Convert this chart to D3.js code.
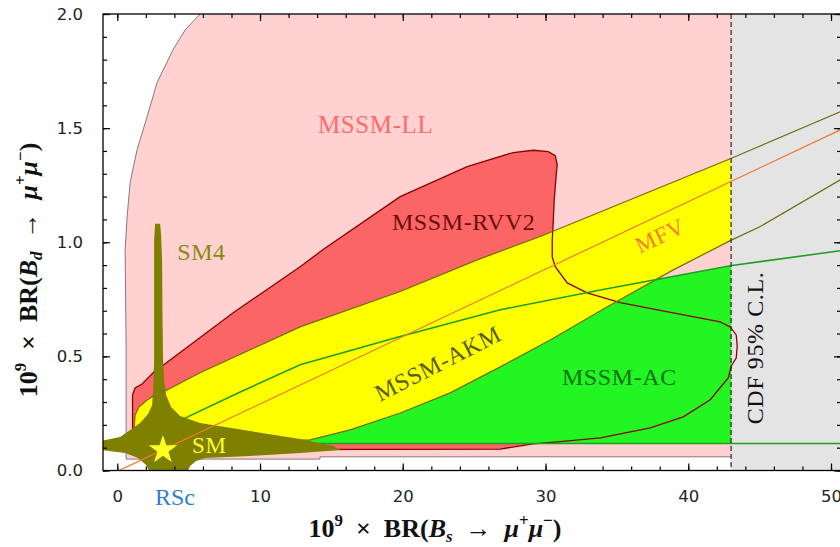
<!DOCTYPE html>
<html lang="en">
<head>
<meta charset="UTF-8" />
<title>BR(Bs -> mu mu) vs BR(Bd -> mu mu)</title>
<script src="https://d3js.org/d3.v7.min.js"></script>
<style>
  body { margin: 0; background: #fff; }
  svg { display: block; }
  .tick text { font-family: "DejaVu Sans", sans-serif; font-size: 16.5px; fill: #222; }
  .tick line { stroke: #000; stroke-width: 1.2px; }
  .lbl { font-family: "Liberation Serif", "Times New Roman", serif; }
</style>
</head>
<body>
<svg width="840" height="547"></svg>
<script>
// values: x = 1e9 BR(Bs -> mu mu), y = 1e9 BR(Bd -> mu mu)
const xTicks = [0, 10, 20, 30, 40, 50];
const yTicks = [0, 0.5, 1.0, 1.5, 2.0];
const cdfLimit = 43.0;

// MSSM-LL: left boundary curve, then bottom edge up to the CDF limit
const llEdge = [[5.8,2.0],[4.75,1.93],[3.91,1.844],[2.79,1.70],[2.09,1.55],[1.39,1.406],
  [0.90,1.261],[0.69,1.112],[0.55,0.967],[0.62,0.53],[0.62,0.05],[14.2,0.05],[14.2,0.06],[43.0,0.06]];

// MSSM-RVV2 closed contour
const rvv2 = [[1.07,0.090],[1.07,0.331],[1.25,0.362],[1.74,0.379],[2.51,0.428],[8.12,0.691],
  [12.81,0.893],[14.42,0.968],[19.82,1.200],[24.51,1.331],[27.74,1.393],[29.14,1.403],[30.19,1.397],
  [30.68,1.379],[30.82,1.340],[30.75,1.296],[30.61,1.186],[30.54,1.086],[30.47,1.011],[30.47,0.936],
  [30.68,0.893],[31.52,0.822],[32.92,0.778],[35.23,0.735],[38.94,0.691],[42.23,0.651],[42.94,0.629],
  [43.36,0.594],[43.43,0.546],[43.36,0.493],[43.01,0.458],[42.80,0.406],[41.54,0.310],[39.65,0.235],
  [37.34,0.187],[33.84,0.143],[30.82,0.125],[29.14,0.117],[26.83,0.094]];

// MSSM-AKM band
const akmUpper = [[1.18,0.186],[1.25,0.243],[1.53,0.279],[2.09,0.309],[2.79,0.336],[3.50,0.353],
  [5.80,0.428],[12.81,0.629],[19.82,0.784],[25.22,0.923],[29.63,1.025],[42.94,1.366],[50.66,1.572]];
const akmLower = [[1.18,0.178],[5.80,0.147],[10.0,0.129],[13.51,0.134],[16.31,0.178],[19.82,0.252],
  [23.32,0.340],[26.83,0.454],[30.33,0.572],[34.33,0.717],[38.95,0.879],[42.94,1.007],[45.05,1.069],[50.66,1.274]];

// MSSM-AC region
const acUpper = [[4.19,0.213],[8.61,0.344],[12.81,0.463],[19.82,0.587],[26.83,0.704],[33.84,0.791],
  [42.94,0.897],[50.66,0.963]];
const acLower = [[4.19,0.118],[50.66,0.118]];

// MFV line
const mfv = [[0.0,-0.004],[50.7,1.494]];

// SM4 spread
const sm4 = [[2.65,1.081],[3.00,1.081],[3.07,1.033],[3.14,0.923],[3.17,0.660],[3.21,0.485],[3.28,0.397],
  [3.42,0.331],[3.77,0.278],[4.40,0.239],[5.80,0.208],[9.31,0.173],[12.81,0.138],[15.13,0.107],[15.62,0.090],
  [12.81,0.077],[9.31,0.064],[6.15,0.055],[5.52,0.042],[5.10,0.020],[4.89,-0.01],[2.30,-0.01],[2.02,0.024],
  [1.46,0.055],[0.55,0.077],[-1.2,0.090],[-1.2,0.129],[0.20,0.147],[1.60,0.208],[2.16,0.248],[2.44,0.287],
  [2.51,0.353],[2.58,0.485],[2.58,0.748],[2.58,1.011]];

const smPoint = [3.2, 0.09];

const svg = d3.select('svg');
const x = d3.scaleLinear().domain([-1, 50.7]).range([103, 841]);
const y = d3.scaleLinear().domain([0, 2]).range([470.5, 14]);

svg.append('defs').append('clipPath').attr('id', 'plot')
  .append('rect').attr('x', 103).attr('y', 14).attr('width', 738).attr('height', 456.5);

const line = d3.line().x(d => x(d[0])).y(d => y(d[1]));
const closed = pts => line(pts) + 'Z';
const plot = svg.append('g').attr('clip-path', 'url(#plot)');

// fills
plot.append('path').attr('d', closed(llEdge.concat([[cdfLimit, 2.05], [5.8, 2.05]]))).attr('fill', '#ffd1d1');
plot.append('path').attr('d', closed(rvv2)).attr('fill', '#fb6565');
plot.append('path').attr('d', closed(acUpper.concat(acLower.slice().reverse()))).attr('fill', '#22f522');
plot.append('path').attr('d', closed(akmUpper.concat(akmLower.slice().reverse()))).attr('fill', '#ffff00');

// CDF excluded region
plot.append('rect').attr('x', x(cdfLimit)).attr('y', 0).attr('width', 840).attr('height', 547).attr('fill', '#e4e4e4');

// outlines
plot.append('path').attr('d', line(llEdge)).attr('fill', 'none').attr('stroke', '#8c7676').attr('stroke-width', 1);
plot.append('path').attr('d', closed(rvv2)).attr('fill', 'none').attr('stroke', '#8b0000').attr('stroke-width', 1.3);
[akmUpper, akmLower].forEach(l =>
  plot.append('path').attr('d', line(l)).attr('fill', 'none').attr('stroke', '#6e6e08').attr('stroke-width', 1.2));
[acUpper, acLower].forEach(l =>
  plot.append('path').attr('d', line(l)).attr('fill', 'none').attr('stroke', '#1f9e1f').attr('stroke-width', 1.6));

// SM4
plot.append('path').attr('d', closed(sm4)).attr('fill', '#7f7f00');

// MFV
plot.append('path').attr('d', line(mfv)).attr('fill', 'none').attr('stroke', '#f07a30').attr('stroke-width', 1.2);

// CDF limit
plot.append('line').attr('x1', x(cdfLimit)).attr('x2', x(cdfLimit)).attr('y1', 14).attr('y2', 471)
  .attr('stroke', '#222').attr('stroke-width', 1.2).attr('stroke-dasharray', '5,3');

// SM point
plot.append('path')
  .attr('d', d3.symbol(d3.symbolStar, 255)())
  .attr('transform', `translate(${x(smPoint[0])},${y(smPoint[1])})`)
  .attr('fill', '#ffff20');

// axes
function clean(g) { g.select('.domain').remove(); }
svg.append('g').attr('transform', 'translate(0,470.5)')
  .call(d3.axisBottom(x).tickValues(xTicks).tickSize(-7).tickPadding(20).tickFormat(d3.format('d'))).call(clean);
svg.append('g').attr('transform', 'translate(0,470.5)')
  .call(d3.axisBottom(x).tickValues(d3.range(0, 51, 2)).tickSize(-4).tickFormat('')).call(clean);
svg.append('g').attr('transform', 'translate(0,14)')
  .call(d3.axisTop(x).tickValues(xTicks).tickSize(-7).tickFormat('')).call(clean);
svg.append('g').attr('transform', 'translate(0,14)')
  .call(d3.axisTop(x).tickValues(d3.range(0, 51, 2)).tickSize(-4).tickFormat('')).call(clean);
svg.append('g').attr('transform', 'translate(103,0)')
  .call(d3.axisLeft(y).tickValues(yTicks).tickSize(-7).tickPadding(20).tickFormat(d3.format('.1f'))).call(clean);
svg.append('g').attr('transform', 'translate(103,0)')
  .call(d3.axisLeft(y).tickValues(d3.range(0, 2.01, 0.1)).tickSize(-4).tickFormat('')).call(clean);
svg.append('g').attr('transform', 'translate(841,0)')
  .call(d3.axisRight(y).tickValues(yTicks).tickSize(-7).tickFormat('')).call(clean);
svg.append('g').attr('transform', 'translate(841,0)')
  .call(d3.axisRight(y).tickValues(d3.range(0, 2.01, 0.1)).tickSize(-4).tickFormat('')).call(clean);

svg.append('rect').attr('x', 103).attr('y', 14).attr('width', 738).attr('height', 456.5)
  .attr('fill', 'none').attr('stroke', '#000').attr('stroke-width', 1.3);

// region labels
function label(txt, px, py, color, size, angle) {
  const t = svg.append('text').attr('class', 'lbl')
    .attr('transform', `translate(${px},${py})` + (angle ? ` rotate(${angle})` : ''))
    .attr('fill', color).attr('font-size', size).attr('letter-spacing', '0.6px').text(txt);
  return t;
}
label('MSSM-LL', x(14.06), y(1.479), '#ff6b6b', 25);
label('MSSM-RVV2', x(19.24), y(1.053), '#6e0c0c', 24);
label('SM4', x(4.2), y(0.922), '#8a8a12', 24);
label('SM', x(5.24), y(0.077), '#ffff30', 23);
label('MSSM-AC', x(31.15), y(0.375), '#0f6f0f', 24);
label('MSSM-AKM', x(18.4), y(0.30), '#5c5c10', 24, -27);
label('MFV', x(36.6), y(0.95), '#f08030', 23, -25);
label('CDF 95% C.L.', 763, 348, '#111', 24, -90).attr('text-anchor', 'middle');
label('RSc', 155, 505, '#2f7fd0', 24).attr('letter-spacing', '0px');

// axis titles
function mathText(t, parts, size) {
  let shift = 0;
  parts.forEach(([s, k]) => {
    const target = k === 'sup' ? -0.42 * size : k === 'sub' ? 0.2 * size : 0;
    const ts = t.append('tspan').attr('dy', target - shift).text(s);
    shift = target;
    if (k === 'sup' || k === 'sub') ts.attr('font-size', size * 0.65);
    if (k === 'i' || k === 'sub') ts.attr('font-style', 'italic');
  });
}
const titleParts = sub => [['10', ''], ['9', 'sup'], ['\u2002\u00d7\u2002BR(', ''], ['B', 'i'], [sub, 'sub'],
  ['\u2002\u2192\u2002', ''], ['\u03bc', 'i'], ['+', 'sup'], ['\u03bc', 'i'], ['\u2212', 'sup'], [')', '']];

const xt = svg.append('text').attr('class', 'lbl').attr('x', 435).attr('y', 537)
  .attr('text-anchor', 'middle').attr('font-size', 26).attr('font-weight', 'bold').attr('fill', '#111');
mathText(xt, titleParts('s'), 26);

const yt = svg.append('text').attr('class', 'lbl').attr('transform', 'translate(37,270) rotate(-90)')
  .attr('text-anchor', 'middle').attr('font-size', 26).attr('font-weight', 'bold').attr('fill', '#111');
mathText(yt, titleParts('d'), 26);
</script>
</body>
</html>
